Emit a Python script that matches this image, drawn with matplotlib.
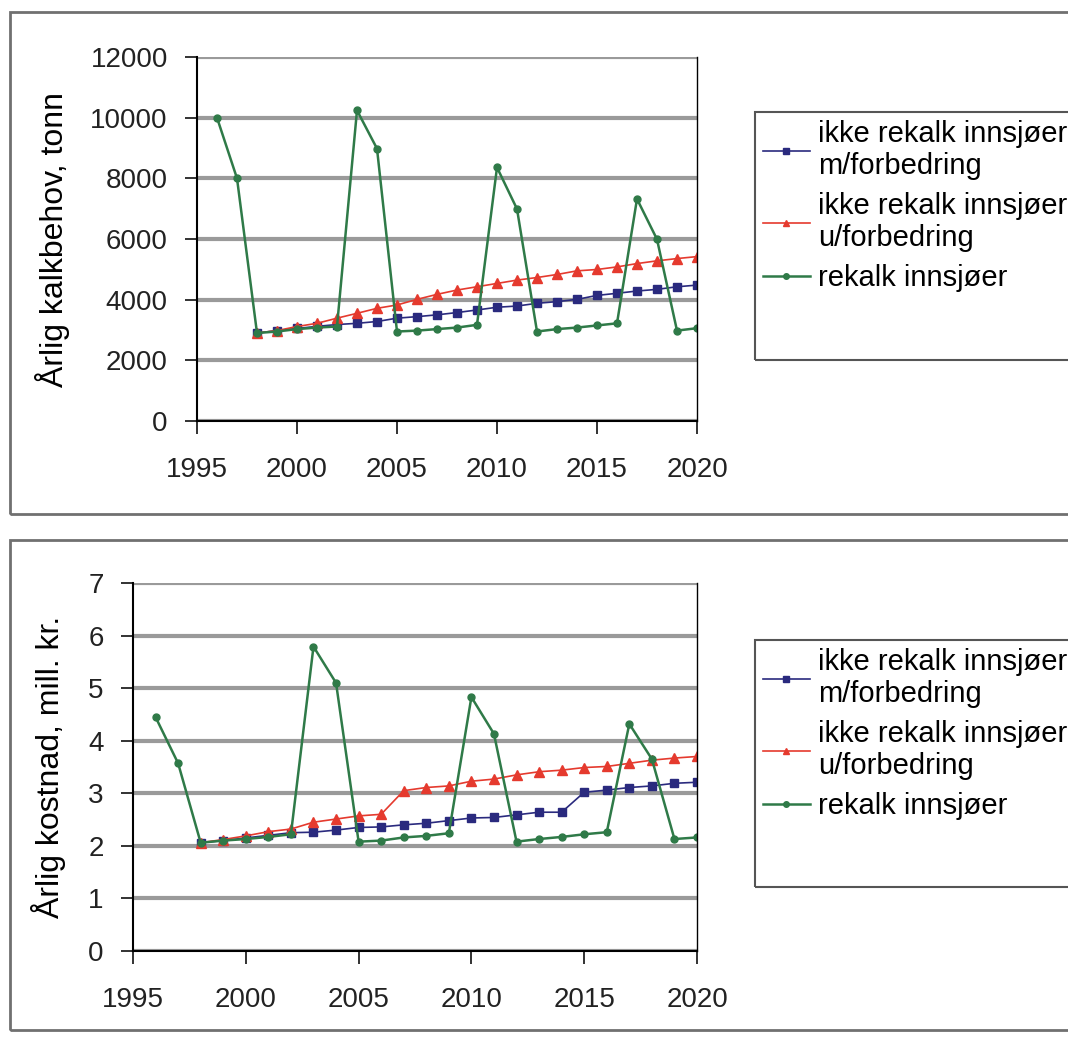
import matplotlib.pyplot as plt
from matplotlib.patches import Rectangle
from matplotlib.lines import Line2D

plt.rcParams['font.family'] = ['Liberation Sans', 'DejaVu Sans']

years_green = list(range(1996, 2021))
years_rb = list(range(1998, 2021))

# Top: annual lime requirement (tonn)
kalk_m_forb = [2900, 2980, 3050, 3120, 3180, 3220, 3280, 3390, 3440, 3500, 3575, 3660,
               3750, 3790, 3880, 3935, 4010, 4140, 4210, 4285, 4340, 4425, 4480]
kalk_u_forb = [2900, 2980, 3115, 3220, 3390, 3550, 3715, 3825, 4010, 4175, 4317, 4426,
               4535, 4645, 4730, 4830, 4950, 4995, 5080, 5190, 5280, 5355, 5420]
kalk_rekalk = [10000, 8000, 2900, 2950, 3030, 3080, 3115, 10240, 8980, 2950, 2980, 3030,
               3080, 3170, 8360, 6990, 2950, 3030, 3080, 3150, 3220, 7320, 5990, 2980, 3060]

# Bottom: annual cost (mill. kr.)
kost_m_forb = [2.06, 2.10, 2.15, 2.20, 2.25, 2.26, 2.30, 2.35, 2.36, 2.40, 2.43, 2.48,
               2.53, 2.54, 2.59, 2.64, 2.64, 3.02, 3.06, 3.11, 3.14, 3.19, 3.21]
kost_u_forb = [2.06, 2.12, 2.19, 2.27, 2.32, 2.45, 2.51, 2.57, 2.60, 3.05, 3.11, 3.14,
               3.23, 3.27, 3.35, 3.41, 3.44, 3.49, 3.51, 3.57, 3.63, 3.67, 3.70]
kost_rekalk = [4.45, 3.57, 2.06, 2.10, 2.13, 2.17, 2.22, 5.79, 5.10, 2.08, 2.10, 2.16,
               2.19, 2.24, 4.83, 4.13, 2.08, 2.13, 2.17, 2.22, 2.26, 4.32, 3.65, 2.13, 2.16]

labels = ["ikke rekalk innsjøer\nm/forbedring",
          "ikke rekalk innsjøer\nu/forbedring",
          "rekalk innsjøer"]

BLUE = '#2a2a7e'
RED = '#e53a2e'
GREEN = '#2f7a48'
FS = 20

fig = plt.figure(figsize=(10.68, 10.37), dpi=100)

# panel frames
W, H = 1068, 1037
for (x0, y0, x1, y1) in [(10, 12, 1075, 514), (10, 540, 1075, 1030)]:
    fig.patches.append(Rectangle((x0 / W, 1 - y1 / H), (x1 - x0) / W, (y1 - y0) / H,
                                 transform=fig.transFigure, fill=False,
                                 edgecolor='#707070', lw=2))


def panel(px, blue, red, green, ylim, yticks, ylabel, label_x, legend_box):
    left, top, right, bottom = px
    ax = fig.add_axes([left / W, 1 - bottom / H, (right - left) / W, (bottom - top) / H])
    ax.plot(years_rb, blue, color=BLUE, lw=1.2, marker='s', ms=5.5, label=labels[0])
    ax.plot(years_rb, red, color=RED, lw=1.2, marker='^', ms=7, label=labels[1])
    ax.plot(years_green, green, color=GREEN, lw=1.8, marker='o', ms=5, label=labels[2])
    ax.set_xlim(1995, 2020)
    ax.set_ylim(*ylim)
    ax.set_yticks(yticks)
    ax.set_xticks(range(1995, 2021, 5))
    ax.yaxis.grid(True, color='#9a9a9a', lw=3)
    ax.set_axisbelow(True)
    ax.spines['top'].set_visible(False)
    for s in ('left', 'bottom', 'right'):
        ax.spines[s].set_color('black')
        ax.spines[s].set_linewidth(1.5)
    ax.spines['right'].set_linewidth(1.0)
    ax.tick_params(axis='both', labelsize=FS, direction='out', length=9, width=1.3,
                   colors='#222222')
    ax.tick_params(axis='x', pad=17)
    ax.tick_params(axis='y', pad=12)
    ax.set_ylabel(ylabel, fontsize=23)
    ax.yaxis.set_label_coords((label_x - left) / (right - left), 0.5)

    # legend box reaching past the right edge
    lx0, ly0, ly1 = legend_box
    fig.patches.append(Rectangle((lx0 / W, 1 - ly1 / H), (1080 - lx0) / W, (ly1 - ly0) / H,
                                 transform=fig.transFigure, fill=False,
                                 edgecolor='#555555', lw=1.5))
    handles = [Line2D([], [], color=BLUE, lw=1.2, marker='s', ms=4),
               Line2D([], [], color=RED, lw=1.2, marker='^', ms=5),
               Line2D([], [], color=GREEN, lw=1.8, marker='o', ms=4)]
    fig.legend(handles, labels, loc='upper left',
               bbox_to_anchor=((lx0 + 8) / W, 1 - (ly0 + 8) / H),
               frameon=False, fontsize=21, handlelength=1.6, handletextpad=0.3,
               labelspacing=0.4, borderaxespad=0, borderpad=0)
    return ax


panel((197, 57, 697, 421), kalk_m_forb, kalk_u_forb, kalk_rekalk,
      (0, 12000), range(0, 12001, 2000), "Årlig kalkbehov, tonn", 70, (755, 112, 360))
panel((133, 583, 697, 951), kost_m_forb, kost_u_forb, kost_rekalk,
      (0, 7), range(0, 8), "Årlig kostnad, mill. kr.", 66, (755, 640, 887))

fig.savefig("out.png", dpi=100)
